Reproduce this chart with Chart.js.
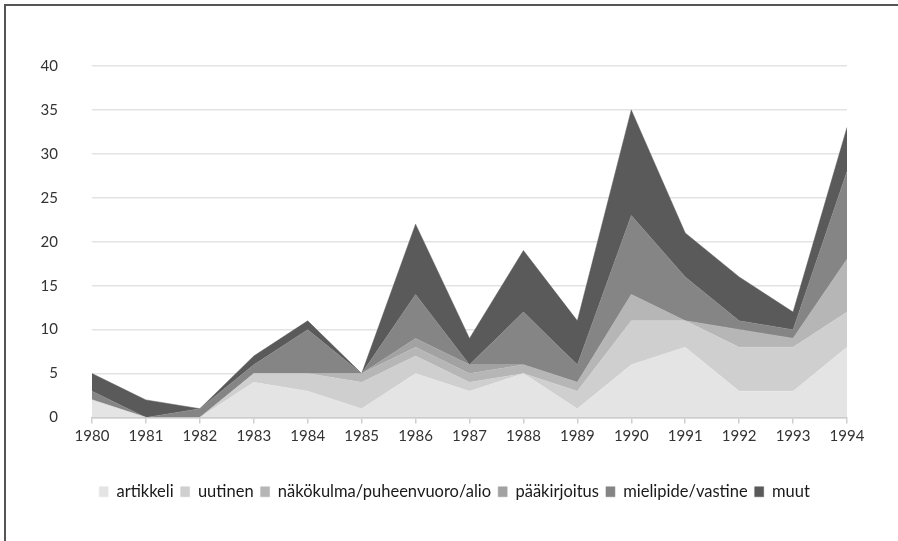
<!DOCTYPE html>
<html>
<head>
<meta charset="utf-8">
<script src="https://cdn.jsdelivr.net/npm/chart.js@4"></script>
<style>
  html, body { margin: 0; padding: 0; background: #fff; }
  #wrap { position: relative; width: 898px; height: 541px; overflow: hidden; }
  #frame { position: absolute; left: 4px; top: 4px; width: 900px; height: 600px;
           border-top: 2px solid #555; border-left: 2px solid #555; box-sizing: border-box; }
  canvas { position: absolute; left: 0; top: 0; }
</style>
</head>
<body>
<div id="wrap">
  <div id="frame"></div>
  <canvas id="c" width="898" height="541"></canvas>
</div>
<script>
const years = ["1980","1981","1982","1983","1984","1985","1986","1987","1988","1989","1990","1991","1992","1993","1994"];
const artikkeli  = [2,0,0,4,3,1,5,3,5,1,6,8,3,3,8];
const uutinen    = [0,0,0,1,2,3,2,1,0,2,5,3,5,5,4];
const nakokulma  = [0,0,0,0,0,1,1,1,1,1,3,0,2,1,6];
const paakirjoitus = [0,0,0,0,0,0,1,1,0,0,0,0,0,0,0];
const mielipide  = [1,0,1,1,5,0,5,0,6,2,9,5,1,1,10];
const muut       = [2,2,0,1,1,0,8,3,7,5,12,5,5,2,5];
const seriesNames = ["artikkeli","uutinen","näkökulma/puheenvuoro/alio","pääkirjoitus","mielipide/vastine","muut"];
const seriesData = [artikkeli, uutinen, nakokulma, paakirjoitus, mielipide, muut];
const seriesColors = ["#e4e4e4","#cfcfcf","#b6b6b6","#a2a2a2","#858585","#5a5a5a"];
const yTicks = [0,5,10,15,20,25,30,35,40];

const FONT = "Lato, 'Open Sans', sans-serif";

const datasets = seriesNames.map((name, i) => ({
  label: name,
  data: seriesData[i],
  backgroundColor: seriesColors[i],
  borderColor: seriesColors[i],
  borderWidth: 0.5,
  pointRadius: 0,
  tension: 0,
  fill: i === 0 ? 'origin' : '-1'
}));

const shiftLegend = {
  id: 'shiftLegend',
  afterLayout(chart) {
    const lg = chart.legend;
    if (lg) { lg.left += 31; lg.right += 31; }
  }
};

new Chart(document.getElementById('c'), {
  type: 'line',
  data: { labels: years, datasets },
  plugins: [shiftLegend],
  options: {
    responsive: false,
    animation: false,
    layout: { padding: { top: 66, left: 0, right: 51, bottom: 31 } },
    plugins: {
      tooltip: { enabled: false },
      legend: {
        position: 'bottom',
        labels: {
          boxWidth: 9, boxHeight: 10, padding: 7,
          color: '#1a1a1a',
          font: { family: FONT, size: 16.5 }
        }
      }
    },
    scales: {
      x: {
        offset: false,
        grid: { display: true, drawOnChartArea: false, drawTicks: true, tickLength: 6, color: '#cfcfcf', lineWidth: 1.5 },
        border: { display: true, color: '#c8c8c8', width: 1.5 },
        ticks: { color: '#333', font: { family: FONT, size: 15 }, padding: 4, maxRotation: 0, autoSkip: false },
        afterFit: (s) => { s.height = 59; }
      },
      y: {
        stacked: true,
        min: 0, max: 40,
        afterBuildTicks: (s) => { s.ticks = yTicks.map(v => ({ value: v })); },
        grid: { color: '#e3e3e3', lineWidth: 1.5, drawTicks: false },
        border: { display: false },
        ticks: { color: '#333', font: { family: FONT, size: 15 }, padding: 34 },
        afterFit: (s) => { s.width = 92; }
      }
    }
  }
});
</script>
</body>
</html>
